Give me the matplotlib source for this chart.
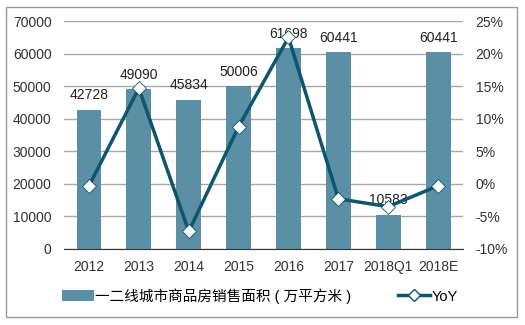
import matplotlib.pyplot as plt
import numpy as np
from matplotlib.patches import Rectangle

plt.rcParams['font.family'] = ['Liberation Sans', 'Noto Sans CJK SC', 'DejaVu Sans']

years = ['2012', '2013', '2014', '2015', '2016', '2017', '2018Q1', '2018E']
area = [42728, 49090, 45834, 50006, 61698, 60441, 10583, 60441]
yoy = [-0.3, 14.7, -7.3, 8.8, 22.5, -2.3, -3.5, -0.3]

bar_color = '#5B8FA6'
line_color = '#0D566B'
grid_color = '#A6A6A6'

fig = plt.figure(figsize=(5.25, 3.25), dpi=100)
ax = fig.add_axes([0.122, 0.234, 0.760, 0.701])
x = np.arange(len(years))

# bars: sales area
ax.bar(x, area, width=0.5, color=bar_color, zorder=2,
       label='一二线城市商品房销售面积 ( 万平方米 )')
for xi, v in zip(x, area):
    ax.text(xi, v + 2300, str(v), ha='center', va='bottom', fontsize=10, color='#222222', zorder=5)

ax.set_xlim(-0.5, len(years) - 0.5)
ax.set_ylim(0, 70000)
ax.set_yticks(range(0, 70001, 10000))
ax.set_xticks(x)
ax.set_xticklabels(years)
ax.yaxis.grid(True, color=grid_color, linewidth=1)
ax.set_axisbelow(True)
for s in ['top', 'right', 'left']:
    ax.spines[s].set_visible(False)
ax.spines['bottom'].set_color('#333333')
ax.tick_params(length=0, labelsize=10, colors='#333333')
ax.tick_params(axis='y', pad=9)
ax.tick_params(axis='x', pad=8)

# line: YoY on right axis
ax2 = ax.twinx()
ax2.plot(x, yoy, color=line_color, linewidth=2.5, marker='D', markersize=7,
         markerfacecolor='white', markeredgecolor=line_color, markeredgewidth=0.6,
         zorder=3, label='YoY')
ax2.set_ylim(-10, 25)
ax2.set_yticks(range(-10, 26, 5))
ax2.set_yticklabels([f'{t}%' for t in range(-10, 26, 5)])
for s in ax2.spines.values():
    s.set_visible(False)
ax2.tick_params(length=0, labelsize=10, colors='#333333', pad=9)

h1, l1 = ax.get_legend_handles_labels()
legend_line = plt.Line2D([], [], color=line_color, linewidth=2.5, marker='D', markersize=6,
                         markerfacecolor='white', markeredgecolor=line_color)
fig.legend(h1 + [legend_line], l1 + ['YoY'], loc='center', bbox_to_anchor=(0.495, 0.09),
           ncol=2, frameon=False, fontsize=10.5, handlelength=2.2, columnspacing=3.2,
           handletextpad=0.1)

# outer border
fig.patches.append(Rectangle((0.012, 0.025), 0.973, 0.955, transform=fig.transFigure,
                             fill=False, edgecolor='#999999', linewidth=1))

fig.savefig('out.png', dpi=100)
